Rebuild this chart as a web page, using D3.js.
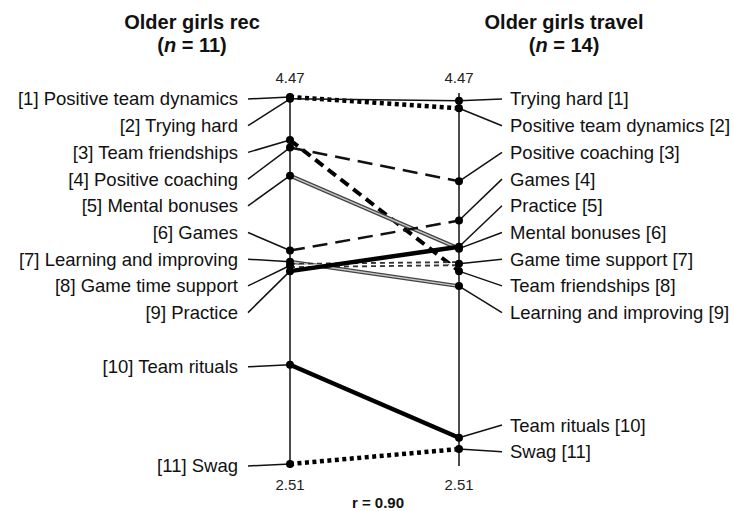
<!DOCTYPE html>
<html>
<head>
<meta charset="utf-8">
<script src="https://cdn.jsdelivr.net/npm/d3@7/dist/d3.min.js"></script>
<style>
  body { margin: 0; background: #fff; }
  text { font-family: "Liberation Sans", Arial, sans-serif; fill: #111; }
</style>
</head>
<body>
<svg id="chart" width="734" height="511"></svg>
<script>
// categories and mean ratings per group
var categories = [
  "Positive team dynamics", "Trying hard", "Team friendships", "Positive coaching",
  "Mental bonuses", "Games", "Learning and improving", "Game time support",
  "Practice", "Team rituals", "Swag"
];
var recValues    = [4.47, 4.46, 4.24, 4.20, 4.05, 3.65, 3.59, 3.57, 3.54, 3.04, 2.51];
var travelValues = [4.41, 4.45, 3.54, 4.02, 3.66, 3.81, 3.46, 3.58, 3.67, 2.65, 2.59];
var groupTitles = ["Older girls rec", "Older girls travel"];
var groupN = [11, 14];
var corrText = "r = 0.90";

// line style per category
var lineStyles = {
  "Positive team dynamics": "dotted",
  "Trying hard": "thin",
  "Team friendships": "thickDash",
  "Positive coaching": "dash",
  "Mental bonuses": "double",
  "Games": "dash",
  "Learning and improving": "double",
  "Game time support": "doubleDot",
  "Practice": "thick",
  "Team rituals": "thick",
  "Swag": "dotted"
};

var svg = d3.select("#chart");

var allValues = recValues.concat(travelValues);
var vMax = d3.max(allValues), vMin = d3.min(allValues);

var y = d3.scaleLinear().domain([vMin, vMax]).range([464, 97]);
var x = d3.scalePoint().domain(["rec", "travel"]).range([290, 459]);
var fmt = d3.format(".2f");

var rows = categories.map(function(c, i) {
  return { name: c, rec: recValues[i], travel: travelValues[i], style: lineStyles[c] };
});

//-------------------------------
// label layout: split into blocks where the data gap is large, stack evenly inside a block
// (first block hangs from the top of the axis, lone labels sit at their point)
var GAP = 26.7;
function layoutLabels(items, key) {
  var sorted = items.slice().sort(function(a, b) { return b[key] - a[key]; });
  sorted.forEach(function(d, i) { d[key + "Rank"] = i + 1; d[key + "Y"] = y(d[key]); });
  var blocks = [], cur = [];
  sorted.forEach(function(d, i) {
    if (i > 0 && d[key + "Y"] - sorted[i - 1][key + "Y"] > 3 * GAP) {
      blocks.push(cur); cur = [];
    }
    cur.push(d);
  });
  blocks.push(cur);
  blocks.forEach(function(b, bi) {
    var ys = b.map(function(d) { return d[key + "Y"]; });
    var top;
    if (bi == 0) top = y(vMax);
    else if (b.length == 1) top = ys[0];
    else top = Math.min(ys[0], d3.mean(ys) - (b.length - 1) * GAP / 2) - 7;
    b.forEach(function(d, i) { d[key + "LabelY"] = top + i * GAP + 2; });
  });
}
layoutLabels(rows, "rec");
layoutLabels(rows, "travel");

//-------------------------------
// titles
[0, 1].forEach(function(g) {
  var cx = g == 0 ? 192 : 564;
  svg.append("text")
    .attr("x", cx).attr("y", 29)
    .attr("text-anchor", "middle")
    .style("font-size", "20px").style("font-weight", "bold")
    .text(groupTitles[g]);
  var t = svg.append("text")
    .attr("x", cx).attr("y", 52)
    .attr("text-anchor", "middle")
    .style("font-size", "20px").style("font-weight", "bold");
  t.append("tspan").text("(");
  t.append("tspan").style("font-style", "italic").text("n");
  t.append("tspan").text(" = " + groupN[g] + ")");
});

// vertical axes
x.domain().forEach(function(k) {
  svg.append("line")
    .attr("x1", x(k)).attr("x2", x(k))
    .attr("y1", y(vMax) - 4).attr("y2", y(vMin) + 2)
    .attr("stroke", "#111").attr("stroke-width", 1.5);
  svg.append("text")
    .attr("x", x(k)).attr("y", y(vMax) - 14)
    .attr("text-anchor", "middle")
    .style("font-size", "15px").style("fill", "#222")
    .text(fmt(vMax));
  svg.append("text")
    .attr("x", x(k)).attr("y", y(vMin) + 26)
    .attr("text-anchor", "middle")
    .style("font-size", "15px").style("fill", "#222")
    .text(fmt(vMin));
});

svg.append("text")
  .attr("x", 378).attr("y", 508)
  .attr("text-anchor", "middle")
  .style("font-size", "15px").style("font-weight", "bold")
  .text(corrText);

//-------------------------------
// connectors + labels
var labelFont = "18.5px";
rows.forEach(function(d) {
  svg.append("line")
    .attr("x1", 248).attr("y1", d.recLabelY)
    .attr("x2", x("rec")).attr("y2", d.recY)
    .attr("stroke", "#111").attr("stroke-width", 1.5);
  svg.append("text")
    .attr("x", 238).attr("y", d.recLabelY)
    .attr("dy", "0.35em")
    .attr("text-anchor", "end")
    .style("font-size", labelFont)
    .text("[" + d.recRank + "] " + d.name);

  svg.append("line")
    .attr("x1", x("travel")).attr("y1", d.travelY)
    .attr("x2", 502).attr("y2", d.travelLabelY)
    .attr("stroke", "#111").attr("stroke-width", 1.5);
  svg.append("text")
    .attr("x", 510).attr("y", d.travelLabelY)
    .attr("dy", "0.35em")
    .attr("text-anchor", "start")
    .style("font-size", labelFont)
    .text(d.name + " [" + d.travelRank + "]");
});

//-------------------------------
// slope lines
function addLine(d, stroke, width, dash) {
  svg.append("line")
    .attr("x1", x("rec")).attr("y1", y(d.rec))
    .attr("x2", x("travel")).attr("y2", y(d.travel))
    .attr("stroke", stroke)
    .attr("stroke-width", width)
    .attr("stroke-dasharray", dash || null);
}

rows.forEach(function(d) {
  if (d.style == "thin") addLine(d, "#111", 1.5);
  else if (d.style == "thick") addLine(d, "#000", 4.5);
  else if (d.style == "dotted") addLine(d, "#000", 4.5, "4,3.5");
  else if (d.style == "dash") addLine(d, "#111", 2.5, "15,8");
  else if (d.style == "thickDash") addLine(d, "#000", 4, "10,6");
  else if (d.style == "double") {
    addLine(d, "#444", 4);
    addLine(d, "#c8c8c8", 1.5);
  } else if (d.style == "doubleDot") {
    addLine(d, "#333", 5, "5,4");
    addLine(d, "#fff", 1.3);
  }
});

// points
rows.forEach(function(d) {
  svg.append("circle").attr("cx", x("rec")).attr("cy", y(d.rec)).attr("r", 4).attr("fill", "#000");
  svg.append("circle").attr("cx", x("travel")).attr("cy", y(d.travel)).attr("r", 4).attr("fill", "#000");
});
</script>
</body>
</html>
